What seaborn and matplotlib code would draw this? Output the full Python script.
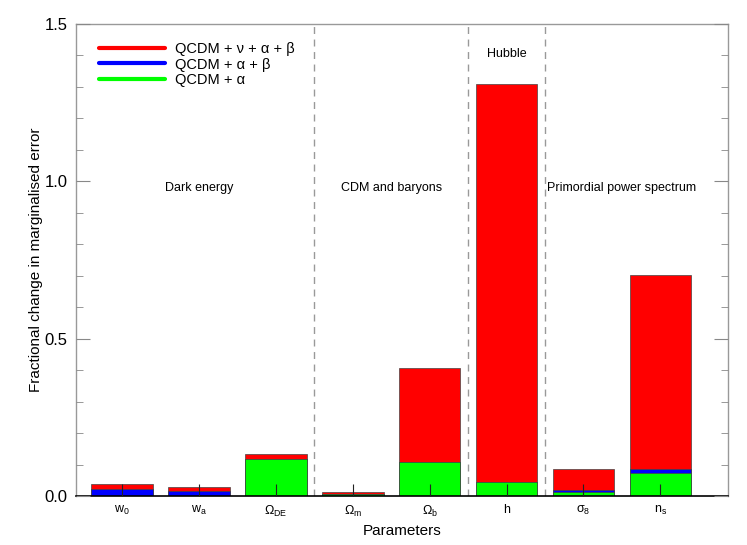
import numpy as np
import pandas as pd
import matplotlib
matplotlib.use("Agg")
import matplotlib.pyplot as plt
from matplotlib.lines import Line2D
from matplotlib.ticker import MultipleLocator
import seaborn as sns

# parameters and fractional changes
params = ["w$_0$", "w$_a$", "$\\Omega_{DE}$", "$\\Omega_m$", "$\\Omega_b$", "h", "$\\sigma_8$", "n$_s$"]
nu_alpha_beta = [0.039, 0.029, 0.133, 0.012, 0.408, 1.310, 0.085, 0.702]
alpha_beta = [0.022, 0.016, 0.118, 0.005, 0.108, 0.043, 0.020, 0.085]
alpha_only = [0.0, 0.0, 0.118, 0.005, 0.108, 0.043, 0.013, 0.072]

labels = ["QCDM + \u03bd + \u03b1 + \u03b2", "QCDM + \u03b1 + \u03b2", "QCDM + \u03b1"]
colors = ["#ff0000", "#0000ff", "#00ff00"]

groups = ["Dark energy", "CDM and baryons", "Hubble", "Primordial power spectrum"]
group_x = [1, 3.5, 5, 6.5]
group_y = [0.98, 0.98, 1.405, 0.98]
dividers = [2.5, 4.5, 5.5]

sns.set_style("white")
plt.rcParams["font.family"] = ["Liberation Sans", "DejaVu Sans"]
plt.rcParams["mathtext.fontset"] = "custom"
plt.rcParams["mathtext.rm"] = "Liberation Sans"
plt.rcParams["mathtext.it"] = "Liberation Sans"
plt.rcParams["mathtext.default"] = "regular"
plt.rcParams["text.color"] = "black"
plt.rcParams["axes.labelcolor"] = "black"
plt.rcParams["xtick.color"] = "black"
plt.rcParams["ytick.color"] = "black"

df = pd.DataFrame({"param": params, "r": nu_alpha_beta, "b": alpha_beta, "g": alpha_only})

fig = plt.figure(figsize=(7.47, 5.45), dpi=100)
ax = fig.add_axes([0.1017, 0.0899, 0.8729, 0.8661])

for col, c in zip(["r", "b", "g"], colors):
    sns.barplot(data=df, x="param", y=col, order=params, color=c, saturation=1,
                width=0.8, edgecolor="#444444", linewidth=0.5, ax=ax)

for d in dividers:
    ax.axvline(d, color="#999999", ls=(0, (5, 4)), lw=1)

for t, gx, gy in zip(groups, group_x, group_y):
    ax.text(gx, gy, t, ha="center", va="center", fontsize=9)

ax.set_axisbelow(False)
ax.set_xlim(-0.6, 7.88)
ax.set_ylim(0, 1.5)
ax.yaxis.set_major_locator(MultipleLocator(0.5))
ax.yaxis.set_minor_locator(MultipleLocator(0.1))
ax.yaxis.set_major_formatter(matplotlib.ticker.FormatStrFormatter("%.1f"))
ax.tick_params(axis="y", which="both", direction="in", left=True, right=True,
               color="#888888", labelcolor="black", labelsize=12, pad=6)
ax.tick_params(axis="y", which="major", length=10)
ax.tick_params(axis="y", which="minor", length=5)
ax.tick_params(axis="x", which="major", direction="in", bottom=True, length=9,
               color="#222222", width=0.8, labelcolor="black", labelsize=9, pad=6)

for s in ["left", "right", "top"]:
    ax.spines[s].set_color("#999999")
    ax.spines[s].set_linewidth(1)
ax.spines["bottom"].set_color("black")
ax.spines["bottom"].set_linewidth(1.2)

ax.set_xlabel("Parameters", fontsize=11, labelpad=3)
ax.set_ylabel("Fractional change in marginalised error", fontsize=11, labelpad=1)

handles = [Line2D([], [], color=c, lw=3) for c in colors]
ax.legend(handles, labels, loc="upper left", bbox_to_anchor=(0.015, 0.99), frameon=False,
          fontsize=10.5, handlelength=4.5, handletextpad=0.7, labelspacing=0.12)

fig.savefig("out.png", dpi=100)
